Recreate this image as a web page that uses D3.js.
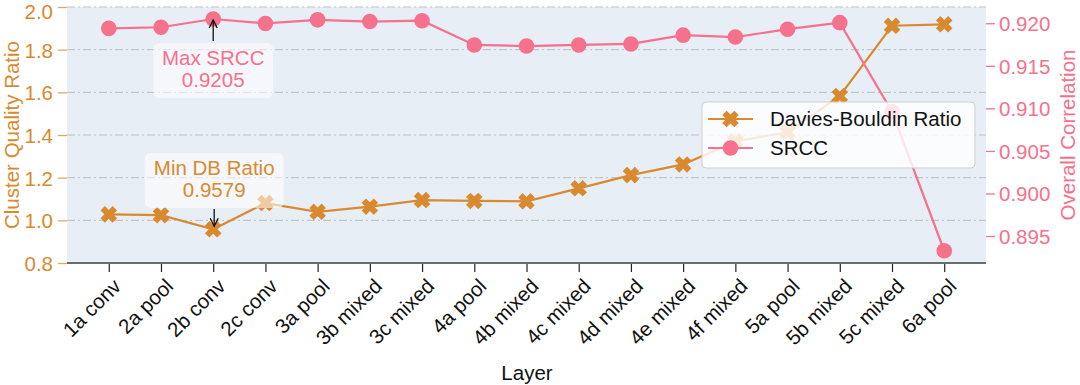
<!DOCTYPE html>
<html><head><meta charset="utf-8">
<script src="https://cdn.jsdelivr.net/npm/d3@7"></script>
<style>body{margin:0;background:#fff}svg{display:block;font-family:"Liberation Sans",Arial,sans-serif}</style>
</head><body><svg id="c" width="1080" height="385"></svg>
<script>
const layers = ["1a conv","2a pool","2b conv","2c conv","3a pool","3b mixed","3c mixed","4a pool","4b mixed","4c mixed","4d mixed","4e mixed","4f mixed","5a pool","5b mixed","5c mixed","6a pool"];
const dbRatio = [1.028,1.024,0.9579,1.081,1.040,1.064,1.095,1.091,1.089,1.150,1.212,1.262,1.370,1.413,1.583,1.912,1.919];
const srcc = [0.91940,0.91953,0.9205,0.91998,0.92040,0.92020,0.92030,0.91745,0.91732,0.91745,0.91757,0.91860,0.91838,0.91930,0.92007,0.90960,0.89327];
const leftTicks = [0.8,1.0,1.2,1.4,1.6,1.8,2.0];
const rightTicks = [0.895,0.900,0.905,0.910,0.915,0.920];

const ORANGE = "#d98a2f", PINK = "#f5718c", BG = "#e8eef6";
const FS = "20.5px";
const L = 67, R = 986, T = 7, B = 263;
const svg = d3.select("#c");
const x = d3.scalePoint().domain(layers).range([L, R]).padding(0.8);
const yL = d3.scaleLinear().domain([0.8, 2.0]).range([B, T]);
const yR = d3.scaleLinear().domain([0.89183, 0.92191]).range([B, T]);

svg.append("rect").attr("x", L).attr("y", T).attr("width", R - L).attr("height", B - T).attr("fill", BG);

// grid
svg.append("g").selectAll("line").data(leftTicks.slice(1)).join("line")
  .attr("x1", L).attr("x2", R).attr("y1", d => yL(d)).attr("y2", d => yL(d))
  .attr("stroke", "#bdbdbd").attr("stroke-width", 1).attr("stroke-dasharray", "8,3,2,3");

// left axis
const gl = svg.append("g").attr("transform", `translate(${L},0)`)
  .call(d3.axisLeft(yL).tickValues(leftTicks).tickFormat(d3.format(".1f")).tickSize(9).tickPadding(5));
gl.select(".domain").remove();
gl.selectAll("line").attr("stroke", ORANGE).attr("stroke-width", 1.3).attr("opacity", 0.75);
gl.selectAll("text").attr("fill", ORANGE).attr("font-size", FS).attr("font-family", "Liberation Sans, Arial, sans-serif").attr("dy", d => d === 2.0 ? "0.57em" : "0.36em");

// right axis
const gr = svg.append("g").attr("transform", `translate(${R},0)`)
  .call(d3.axisRight(yR).tickValues(rightTicks).tickFormat(d3.format(".3f")).tickSize(9).tickPadding(4));
gr.select(".domain").remove();
gr.selectAll("line").attr("stroke", PINK).attr("stroke-width", 1.3);
gr.selectAll("text").attr("fill", PINK).attr("font-size", FS).attr("font-family", "Liberation Sans, Arial, sans-serif").attr("dy", "0.36em");

// bottom axis
const gb = svg.append("g").attr("transform", `translate(0,${B})`)
  .call(d3.axisBottom(x).tickSize(9).tickFormat(""));
gb.select(".domain").remove();
gb.selectAll("line").attr("stroke", "#222").attr("stroke-width", 1.2);
svg.append("line").attr("x1", L).attr("x2", R).attr("y1", B).attr("y2", B).attr("stroke", "#6b6b6b").attr("stroke-width", 1.8);
svg.append("g").selectAll("text").data(layers).join("text")
  .attr("transform", d => `translate(${x(d) + 3},${B + 14}) rotate(-45)`)
  .attr("text-anchor", "end").attr("dy", "0.72em").attr("font-size", FS).attr("fill", "#111").text(d => d);

// axis labels
svg.append("text").attr("x", 527).attr("y", 380).attr("text-anchor", "middle").attr("font-size", FS).attr("fill", "#111").text("Layer");
svg.append("text").attr("transform", `translate(19,${(T + B) / 2}) rotate(-90)`).attr("text-anchor", "middle").attr("font-size", FS).attr("fill", ORANGE).text("Cluster Quality Ratio");
svg.append("text").attr("transform", `translate(1075,${(T + B) / 2}) rotate(-90)`).attr("text-anchor", "middle").attr("font-size", FS).attr("fill", PINK).text("Overall Correlation");

// X marker path
function xMarker(s) {
  const w = s * 0.36, a = s;
  const plus = [[-w,-a],[w,-a],[w,-w],[a,-w],[a,w],[w,w],[w,a],[-w,a],[-w,w],[-a,w],[-a,-w],[-w,-w]];
  const c = Math.SQRT1_2;
  return "M" + plus.map(([px, py]) => [(px - py) * c, (px + py) * c].map(v => v.toFixed(2)).join(",")).join("L") + "Z";
}
const XP = xMarker(8.6);

// DB line
const lineDB = d3.line().x((d, i) => x(layers[i])).y(d => yL(d));
svg.append("path").datum(dbRatio).attr("d", lineDB).attr("fill", "none").attr("stroke", ORANGE).attr("stroke-width", 2.2);
svg.append("g").selectAll("path").data(dbRatio).join("path")
  .attr("transform", (d, i) => `translate(${x(layers[i])},${yL(d)})`).attr("d", XP).attr("fill", ORANGE);

// SRCC line
const lineS = d3.line().x((d, i) => x(layers[i])).y(d => yR(d));
svg.append("path").datum(srcc).attr("d", lineS).attr("fill", "none").attr("stroke", PINK).attr("stroke-width", 2.2);
svg.append("g").selectAll("circle").data(srcc).join("circle")
  .attr("cx", (d, i) => x(layers[i])).attr("cy", d => yR(d)).attr("r", 7.8).attr("fill", PINK);

// annotations
const iMaxS = srcc.indexOf(d3.max(srcc));
const iMinD = dbRatio.indexOf(d3.min(dbRatio));
function annot(cx, boxY, w, lines, color, arrowFrom, arrowTo) {
  const g = svg.append("g");
  g.append("rect").attr("x", cx - w / 2).attr("y", boxY).attr("width", w).attr("height", 55).attr("rx", 6)
    .attr("fill", "#fff").attr("fill-opacity", 0.55);
  g.append("text").attr("x", cx).attr("y", boxY + 22).attr("text-anchor", "middle").attr("font-size", FS).attr("fill", color).text(lines[0]);
  g.append("text").attr("x", cx).attr("y", boxY + 44).attr("text-anchor", "middle").attr("font-size", FS).attr("fill", color).text(lines[1]);
  const dir = Math.sign(arrowTo - arrowFrom);
  g.append("line").attr("x1", cx).attr("x2", cx).attr("y1", arrowFrom).attr("y2", arrowTo).attr("stroke", "#111").attr("stroke-width", 1.3);
  g.append("path").attr("d", `M${cx - 4},${arrowTo - dir * 8}L${cx},${arrowTo}L${cx + 4},${arrowTo - dir * 8}`)
    .attr("fill", "none").attr("stroke", "#111").attr("stroke-width", 1.3);
}
annot(x(layers[iMaxS]), 43, 120, ["Max SRCC", "0.9205"], PINK, 41, yR(srcc[iMaxS]) + 1);
annot(x(layers[iMinD]) + 1, 153, 139, ["Min DB Ratio", "0.9579"], ORANGE, 209, yL(dbRatio[iMinD]) - 3);

// legend
const lg = svg.append("g");
lg.append("rect").attr("x", 702).attr("y", 102).attr("width", 273).attr("height", 66).attr("rx", 4)
  .attr("fill", "#fff").attr("fill-opacity", 0.82).attr("stroke", "#cfcfcf").attr("stroke-width", 1);
lg.append("line").attr("x1", 708).attr("x2", 753).attr("y1", 119).attr("y2", 119).attr("stroke", ORANGE).attr("stroke-width", 2.2);
lg.append("path").attr("transform", "translate(730.5,119)").attr("d", XP).attr("fill", ORANGE);
lg.append("text").attr("x", 770).attr("y", 126).attr("font-size", FS).attr("fill", "#111").text("Davies-Bouldin Ratio");
lg.append("line").attr("x1", 708).attr("x2", 753).attr("y1", 148).attr("y2", 148).attr("stroke", PINK).attr("stroke-width", 2.2);
lg.append("circle").attr("cx", 730.5).attr("cy", 148).attr("r", 7.8).attr("fill", PINK);
lg.append("text").attr("x", 770).attr("y", 155).attr("font-size", FS).attr("fill", "#111").text("SRCC");
</script></body></html>
